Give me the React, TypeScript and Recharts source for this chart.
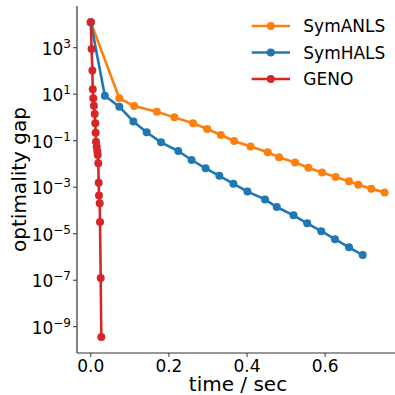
import React from 'react';
import { LineChart, Line, XAxis, YAxis, Legend, Label } from 'recharts';

const anlsTime = [0, 0.073, 0.111, 0.169, 0.214, 0.262, 0.298, 0.333, 0.367, 0.409, 0.453, 0.482, 0.523, 0.557, 0.592, 0.627, 0.661, 0.685, 0.718, 0.752];
const anlsGap = [12400, 6.7, 3.1, 1.77, 1.01, 0.56, 0.318, 0.176, 0.097, 0.056, 0.0317, 0.0193, 0.0115, 0.0069, 0.0043, 0.00275, 0.00179, 0.00128, 0.00086, 0.0006];

const halsTime = [0, 0.036, 0.073, 0.109, 0.143, 0.18, 0.224, 0.258, 0.294, 0.329, 0.365, 0.401, 0.446, 0.476, 0.519, 0.554, 0.59, 0.625, 0.661, 0.696];
const halsGap = [12400, 8.6, 2.9, 0.67, 0.23, 0.085, 0.036, 0.0148, 0.0065, 0.0031, 0.00142, 0.00065, 0.0003, 1.41e-4, 6.2e-5, 2.8e-5, 1.28e-5, 5.8e-6, 2.6e-6, 1.21e-6];

const genoTime = [0, 0.002, 0.004, 0.005, 0.0064, 0.008, 0.01, 0.0115, 0.0125, 0.0133, 0.015, 0.0166, 0.0177, 0.0192, 0.0202, 0.021, 0.0228, 0.0236, 0.0254, 0.0269];
const genoGap = [12400, 880, 104, 16.3, 6.7, 3.2, 1.41, 0.56, 0.22, 0.0906, 0.0552, 0.035, 0.0243, 0.0107, 0.00156, 0.00044, 0.000203, 3.2e-5, 1.24e-7, 3.6e-10];

const xTicks = [0, 0.2, 0.4, 0.6];
const yTickExps = [3, 1, -1, -3, -5, -7, -9];
const seriesNames = ['SymANLS', 'SymHALS', 'GENO'];
const seriesColors = ['#ff7f0e', '#1f77b4', '#d62728'];

const toRows = (ts: number[], gs: number[]) => ts.map((t, i) => ({ t, gap: gs[i] }));
const anlsData = toRows(anlsTime, anlsGap);
const halsData = toRows(halsTime, halsGap);
const genoData = toRows(genoTime, genoGap);

const FONT = 'DejaVu Sans';
const AXIS = '#333333';
const xDomain: [number, number] = [-0.0353, 0.789];
const yDomain: [number, number] = [Math.pow(10, -10.13), Math.pow(10, 4.794)];

const YTick = (props: any) => {
  const { x, y, payload } = props;
  const e = Math.round(Math.log10(payload.value));
  const s = e < 0 ? '\u2212' + Math.abs(e) : String(e);
  return (
    <text x={x} y={y + 7} textAnchor="end" fontFamily={FONT} fill="#000">
      <tspan fontSize={17}>10</tspan>
      <tspan fontSize={12} dy={-7}>{s}</tspan>
    </text>
  );
};

const LegendContent = () => (
  <svg width={150} height={85}>
    {seriesNames.map((n, i) => {
      const cy = 16 + i * 26.5;
      return (
        <g key={n}>
          <line x1={6.7} x2={45} y1={cy} y2={cy} stroke={seriesColors[i]} strokeWidth={2.6} />
          <circle cx={25.8} cy={cy} r={4} fill={seriesColors[i]} />
          <text x={58.3} y={cy + 6} fontSize={17} fontFamily={FONT} fill="#000">{n}</text>
        </g>
      );
    })}
  </svg>
);

export default function App() {
  const dot = (c: string) => ({ r: 4, fill: c, stroke: c, strokeWidth: 0 });
  return (
    <div style={{ position: 'fixed', left: 0, top: 0, width: 395, height: 395, overflow: 'hidden', background: '#fff' }}>
      <LineChart width={400} height={395} margin={{ top: 6, right: 1, bottom: 0, left: 0 }}>
        <XAxis
          type="number"
          dataKey="t"
          domain={xDomain}
          allowDataOverflow
          ticks={xTicks}
          tickFormatter={(v: number) => v.toFixed(1)}
          height={42}
          tickSize={4}
          tickMargin={3}
          tick={{ fontSize: 17, fill: '#000', fontFamily: FONT }}
          axisLine={{ stroke: AXIS, strokeWidth: 1.2 }}
          tickLine={{ stroke: AXIS }}
        >
          <Label
            content={(p: any) => {
              const vb = p.viewBox;
              return (
                <text x={vb.x + vb.width / 2} y={vb.y + 38} textAnchor="middle" fontSize={20} fontFamily={FONT} fill="#000">
                  time / sec
                </text>
              );
            }}
          />
        </XAxis>
        <XAxis
          xAxisId="top"
          orientation="top"
          type="number"
          dataKey="t"
          domain={xDomain}
          allowDataOverflow
          height={0}
          tick={false}
          tickLine={false}
          axisLine={{ stroke: AXIS, strokeWidth: 1.2 }}
        />
        <YAxis
          type="number"
          scale="log"
          domain={yDomain}
          allowDataOverflow
          ticks={yTickExps.map((e) => Math.pow(10, e))}
          width={77}
          tickSize={4}
          tickMargin={2}
          tick={<YTick />}
          axisLine={{ stroke: AXIS, strokeWidth: 1.2 }}
          tickLine={{ stroke: AXIS }}
        >
          <Label
            content={(p: any) => {
              const vb = p.viewBox;
              const cx = vb.x + 26;
              const cy = vb.y + vb.height / 2;
              return (
                <text x={cx} y={cy} transform={`rotate(-90, ${cx}, ${cy})`} textAnchor="middle" fontSize={20} fontFamily={FONT} fill="#000">
                  optimality gap
                </text>
              );
            }}
          />
        </YAxis>
        <Legend
          layout="horizontal"
          align="center"
          verticalAlign="middle"
          wrapperStyle={{ left: 245, top: 10, width: 150, height: 85 }}
          content={<LegendContent />}
        />
        <Line data={anlsData} dataKey="gap" name="SymANLS" stroke={seriesColors[0]} strokeWidth={2.6} dot={dot(seriesColors[0])} activeDot={false} isAnimationActive={false} />
        <Line data={halsData} dataKey="gap" name="SymHALS" stroke={seriesColors[1]} strokeWidth={2.6} dot={dot(seriesColors[1])} activeDot={false} isAnimationActive={false} />
        <Line data={genoData} dataKey="gap" name="GENO" stroke={seriesColors[2]} strokeWidth={2.6} dot={dot(seriesColors[2])} activeDot={false} isAnimationActive={false} />
      </LineChart>
    </div>
  );
}
